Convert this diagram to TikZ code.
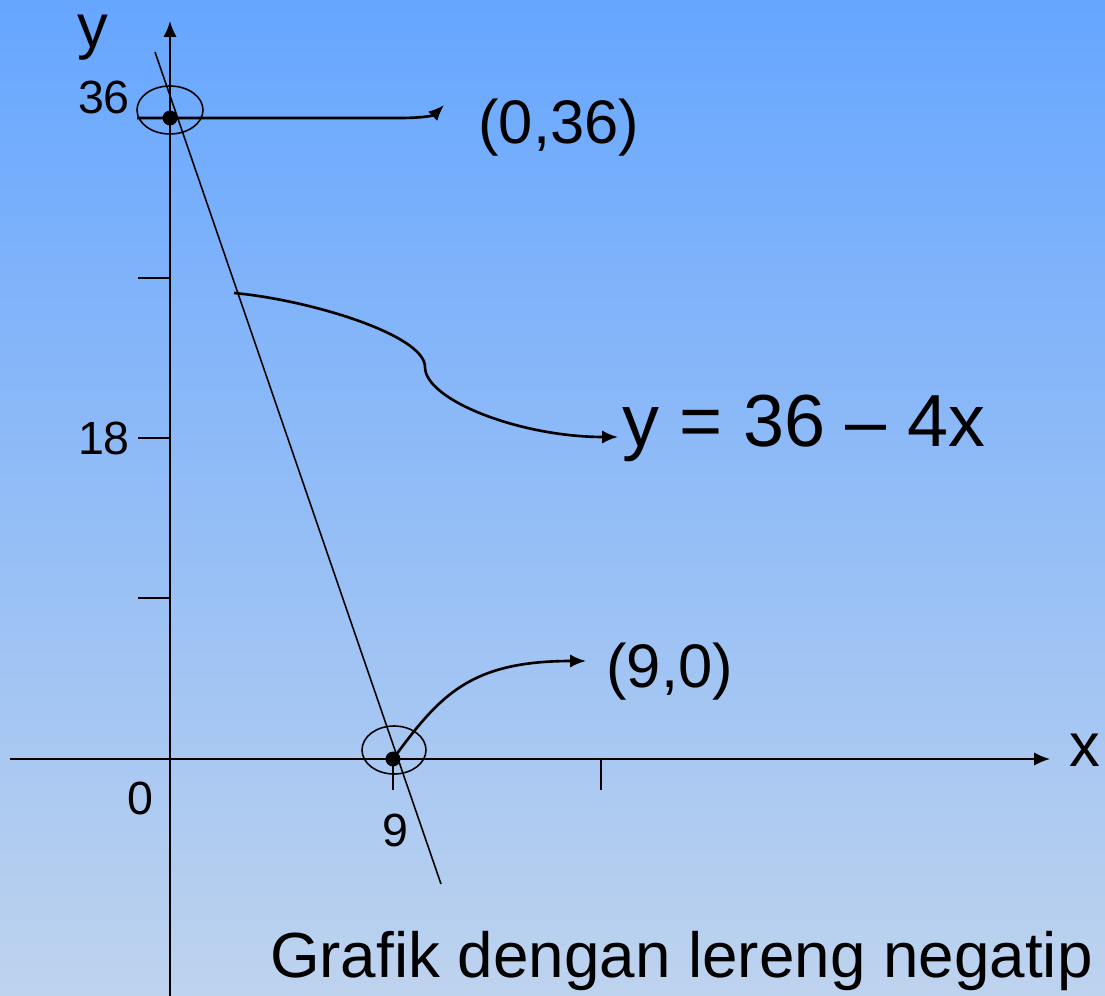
\documentclass[tikz,border=0pt]{standalone}
\usepackage{fontspec}
\setmainfont{Liberation Sans}
\usetikzlibrary{arrows.meta, positioning, calc}
\definecolor{skytop}{RGB}{102,166,255}
\definecolor{skybottom}{RGB}{190,211,238}

\begin{document}
\begin{tikzpicture}[x=0.02cm, y=-0.02cm, >={Latex[length=9pt, width=7.5pt]},
    axis/.style={line width=1.1pt},
    pointer/.style={->, line width=1.5pt},
    dot/.style={circle, fill=black, inner sep=0pt, minimum size=8.5pt},
    bigtxt/.style={font=\fontsize{35}{40}\selectfont, inner sep=0pt},
    smalltxt/.style={font=\fontsize{26.5}{30}\selectfont, inner sep=0pt}]
    % latar belakang
    \shade[top color=skytop, bottom color=skybottom] (0,0) rectangle (1105,996);
    \useasboundingbox (0,0) rectangle (1105,996);

    % sumbu x dan y
    \coordinate (xstart) at (10,759);
    \coordinate (xend) at (1050,759);
    \coordinate (ystart) at (170,996);
    \coordinate (yend) at (170,21);
    \draw[axis, ->] (xstart) -- (xend);
    \draw[axis, ->] (ystart) -- (yend);
    \node[bigtxt] (xlab) at (1085,750) {x};
    \node[bigtxt] (ylab) at (93,38) {y};

    % skala
    \foreach \ty in {278, 438, 598}
        \draw[axis] (138,\ty) -- (170,\ty);
    \foreach \tx in {393, 601}
        \draw[axis] (\tx,759) -- (\tx,790);
    \node[smalltxt] (l36) at (104,97) {36};
    \node[smalltxt] (l18) at (104,438) {18};
    \node[smalltxt] (l0) at (140,798) {0};
    \node[smalltxt] (l9) at (395,830) {9};

    % garis y = 36 - 4x
    \coordinate (ltop) at (155,52);
    \coordinate (lbot) at (441,884);
    \draw[line width=0.9pt] (ltop) -- (lbot);

    % titik potong
    \node[dot] (p36) at (170,118) {};
    \node[dot] (p9) at (393,759) {};
    \draw[line width=0.9pt] (170,110) ellipse (33 and 24);
    \draw[line width=0.9pt] (394,750) ellipse (32 and 24);

    % keterangan
    \node[bigtxt, anchor=west] (t36) at (478,128) {(0,36)};
    \node[bigtxt, anchor=west] (t9) at (606,672) {(9,0)};
    \node[font=\fontsize{42}{48}\selectfont, inner sep=0pt, anchor=base west] (teq) at (622,447) {y = 36 – 4x};
    \node[font=\fontsize{36.3}{40}\selectfont, inner sep=0pt, anchor=base east] (judul) at (1093,977) {Grafik dengan lereng negatip};

    \coordinate (a36) at (137,118);
    \coordinate (e36) at (444,105);
    \draw[pointer] (a36) -- (400,118) .. controls (426,118) and (434,115) .. (e36);

    \coordinate (aeq) at (234,293);
    \coordinate (eeq) at (618,437);
    \draw[pointer] (aeq) .. controls (310,300) and (425,335) .. (425,367)
        .. controls (425,400) and (520,437) .. (eeq);

    \coordinate (e9) at (586,661);
    \draw[pointer] (p9.center) .. controls (440,695) and (470,661) .. (e9);
\end{tikzpicture}
\end{document}
